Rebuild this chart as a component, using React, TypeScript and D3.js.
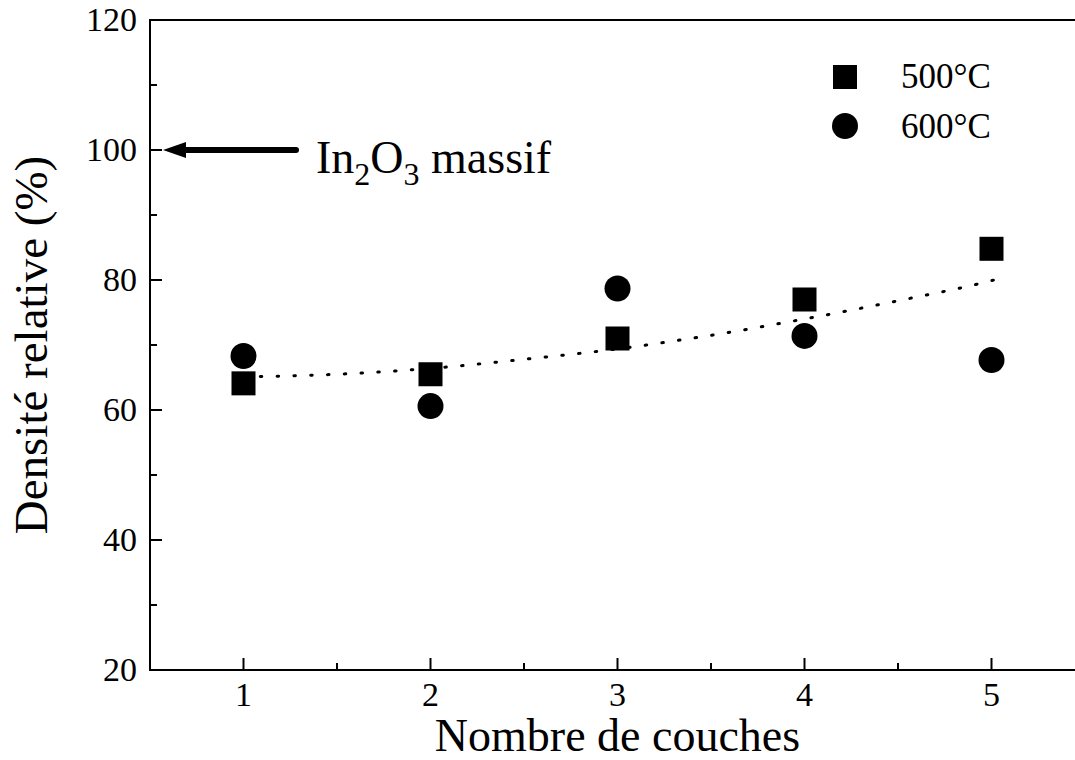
import React from "react";
import * as d3 from "d3";

// ---- data ----
const layers = [1, 2, 3, 4, 5];
const density500 = [64.1, 65.5, 71.0, 77.0, 84.8];
const density600 = [68.3, 60.6, 78.7, 71.4, 67.7];
const fitX = [1.0, 1.5, 2.0, 2.5, 3.0, 3.5, 4.0, 4.5, 5.0, 5.08];
const fitY = [65.1, 65.5, 66.4, 67.8, 69.4, 71.5, 74.0, 76.8, 79.9, 80.5];
const xMajorTicks = [1, 2, 3, 4, 5];
const xMinorTicks = [0.5, 1.5, 2.5, 3.5, 4.5];
const yMajorTicks = [20, 40, 60, 80, 100, 120];
const yMinorTicks = [30, 50, 70, 90, 110];
const legendLabels = ["500°C", "600°C"];
const bulkValue = 100;

const W = 1075;
const H = 760;
const FONT = "'Liberation Serif', 'Times New Roman', serif";

export default function App() {
  const x = d3.scaleLinear().domain([0.5, 5.5]).range([150, 1085]);
  const y = d3.scaleLinear().domain([20, 120]).range([670, 20]);
  const x0 = x.range()[0];
  const y0 = y.range()[0];
  const yTop = y.range()[1];

  const fitLine = d3
    .line<number>()
    .x((_, i) => x(fitX[i]))
    .y((d) => y(d))
    .curve(d3.curveMonotoneX)(fitY) as string;

  const sq = 24;
  const r = 13;

  return (
    <svg
      width={W}
      height={H}
      style={{ position: "absolute", left: 0, top: 0, background: "#fff" }}
      fontFamily={FONT}
    >
      <rect x={0} y={0} width={W} height={H} fill="#fff" />
      {/* axes lines */}
      <line x1={x0} y1={y0} x2={W} y2={y0} stroke="#000" strokeWidth={2} />
      <line x1={x0} y1={yTop} x2={W} y2={yTop} stroke="#000" strokeWidth={2} />
      <line x1={x0} y1={yTop - 1} x2={x0} y2={y0 + 1} stroke="#000" strokeWidth={2} />

      {/* y ticks */}
      {yMajorTicks.map((t) => (
        <g key={"ym" + t}>
          <line x1={x0} x2={x0 + 12} y1={y(t)} y2={y(t)} stroke="#000" strokeWidth={2} />
          <text x={137} y={y(t) + 11} fontSize={34} textAnchor="end" fill="#000">
            {t}
          </text>
        </g>
      ))}
      {yMinorTicks.map((t) => (
        <line key={"yn" + t} x1={x0} x2={x0 + 7} y1={y(t)} y2={y(t)} stroke="#000" strokeWidth={2} />
      ))}

      {/* x ticks */}
      {xMajorTicks.map((t) => (
        <g key={"xm" + t}>
          <line x1={x(t)} x2={x(t)} y1={y0} y2={y0 - 12} stroke="#000" strokeWidth={2} />
          <text x={x(t)} y={706} fontSize={34} textAnchor="middle" fill="#000">
            {t}
          </text>
        </g>
      ))}
      {xMinorTicks.map((t) => (
        <line key={"xn" + t} x1={x(t)} x2={x(t)} y1={y0} y2={y0 - 7} stroke="#000" strokeWidth={2} />
      ))}

      {/* axis titles */}
      <text x={x(3)} y={751} fontSize={46} textAnchor="middle" fill="#000">
        Nombre de couches
      </text>
      <text
        transform={`translate(47, ${(y0 + yTop) / 2}) rotate(-90)`}
        fontSize={47}
        textAnchor="middle"
        fill="#000"
      >
        Densité relative (%)
      </text>

      {/* fit curve */}
      <path
        d={fitLine}
        fill="none"
        stroke="#000"
        strokeWidth={3}
        strokeDasharray="1.5 15.3"
        strokeLinecap="round"
      />

      {/* markers */}
      {layers.map((l, i) => (
        <rect
          key={"s" + l}
          x={x(l) - sq / 2}
          y={y(density500[i]) - sq / 2}
          width={sq}
          height={sq}
          fill="#000"
        />
      ))}
      {layers.map((l, i) => (
        <circle key={"c" + l} cx={x(l)} cy={y(density600[i])} r={r} fill="#000" />
      ))}

      {/* bulk reference arrow */}
      <line
        x1={185}
        y1={y(bulkValue)}
        x2={296}
        y2={y(bulkValue)}
        stroke="#000"
        strokeWidth={6}
        strokeLinecap="round"
      />
      <path
        d={`M ${x0 + 13} ${y(bulkValue)} L ${x0 + 36} ${y(bulkValue) - 8} L ${x0 + 36} ${y(bulkValue) + 8} Z`}
        fill="#000"
      />
      <text x={316} y={173} fontSize={46} fill="#000">
        In
        <tspan fontSize={32} dy={12}>2</tspan>
        <tspan dy={-12}>O</tspan>
        <tspan fontSize={32} dy={12}>3</tspan>
        <tspan dy={-12}> massif</tspan>
      </text>

      {/* legend */}
      <rect x={845 - 12} y={77 - 12} width={24} height={24} fill="#000" />
      <circle cx={845} cy={126} r={13} fill="#000" />
      <text x={901} y={88} fontSize={35} fill="#000">
        {legendLabels[0]}
      </text>
      <text x={901} y={138} fontSize={35} fill="#000">
        {legendLabels[1]}
      </text>
    </svg>
  );
}
